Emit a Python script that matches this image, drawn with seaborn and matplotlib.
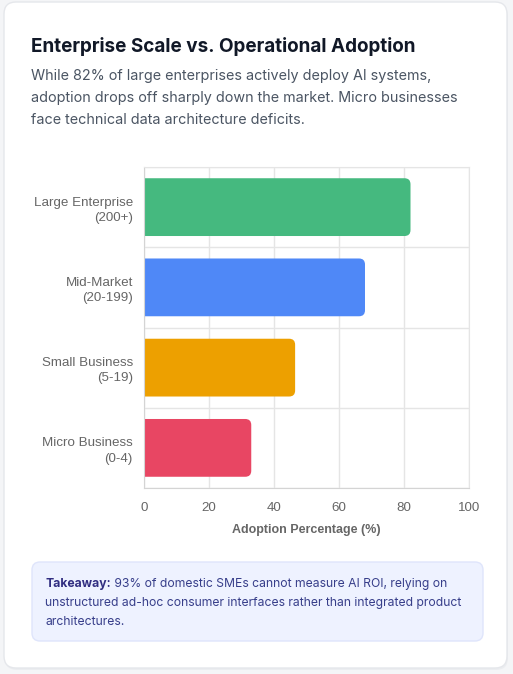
import seaborn as sns
import matplotlib.pyplot as plt
import pandas as pd
from matplotlib.patches import FancyBboxPatch

# --- data ---
segments = ['Large Enterprise\n(200+)', 'Mid-Market\n(20-199)',
            'Small Business\n(5-19)', 'Micro Business\n(0-4)']
adoption = [82, 68, 46.5, 33]
bar_colors = ['#45b97f', '#4f88f7', '#eda000', '#e84663']
x_ticks = [0, 20, 40, 60, 80, 100]

title = 'Enterprise Scale vs. Operational Adoption'
subtitle_lines = ['While 82% of large enterprises actively deploy AI systems,',
                  'adoption drops off sharply down the market. Micro businesses',
                  'face technical data architecture deficits.']
takeaway_head = 'Takeaway:'
takeaway_lines = [' 93% of domestic SMEs cannot measure AI ROI, relying on',
                  'unstructured ad-hoc consumer interfaces rather than integrated product',
                  'architectures.']

df = pd.DataFrame({'Segment': segments, 'Adoption': adoption})

sns.set_style('white')
plt.rcParams['font.family'] = ['Liberation Sans', 'DejaVu Sans']
ui_font = ['Inter', 'DejaVu Sans']

W, H = 513, 674
fig = plt.figure(figsize=(W / 100, H / 100), dpi=100)
fig.patch.set_facecolor('#f4f5f7')

# card background (pixel coords via a full-figure axes)
bg = fig.add_axes([0, 0, 1, 1])
bg.set_xlim(0, W)
bg.set_ylim(H, 0)
bg.axis('off')
bg.add_patch(FancyBboxPatch((5, 4), 503, 666, boxstyle='round,pad=0,rounding_size=12',
                            fc='#e6e8ec', ec='none', alpha=0.6))
bg.add_patch(FancyBboxPatch((4, 2), 503, 666, boxstyle='round,pad=0,rounding_size=12',
                            fc='white', ec='#e5e7eb', lw=1))
bg.add_patch(FancyBboxPatch((32, 562), 451, 79, boxstyle='round,pad=0,rounding_size=8',
                            fc='#eef2ff', ec='#dfe5fb', lw=1))

bg.text(31, 46, title, fontsize=13.6, fontweight='bold', color='#111827',
        family=ui_font, va='center')
for i, line in enumerate(subtitle_lines):
    bg.text(31, 76 + 22 * i, line, fontsize=10.35, color='#4b5563', family=ui_font,
            va='center')

t = bg.text(45, 584, takeaway_head, fontsize=8.75, fontweight='bold', color='#312e81',
            family=ui_font, va='center')
bg.annotate(takeaway_lines[0], xycoords=t, xy=(1, 0.5), va='center',
            fontsize=8.75, color='#373e8a', family=ui_font)
for i, line in enumerate(takeaway_lines[1:]):
    bg.text(45, 603 + 19 * i, line, fontsize=8.75, color='#373e8a', family=ui_font,
            va='center')

# --- chart ---
left, right, top, bottom = 144, 469, 167, 488
ax = fig.add_axes([left / W, 1 - bottom / H, (right - left) / W, (bottom - top) / H])
sns.barplot(data=df, y='Segment', x='Adoption', hue='Segment', palette=bar_colors,
            legend=False, width=0.72, saturation=1, ax=ax, orient='h')

# rounded bar ends: start the rounded box left of zero, axes clip hides the left corners
xr = 100 / (right - left)          # data units per px in x
yr = 4 / (bottom - top)            # data units per px in y
for p in list(ax.patches):
    x0, y0 = p.get_x(), p.get_y()
    w, h = p.get_width(), p.get_height()
    c = p.get_facecolor()
    p.remove()
    ax.add_patch(FancyBboxPatch((x0 - 12 * xr, y0), w + 12 * xr, h,
                                boxstyle=f'round,pad=0,rounding_size={6 * xr}',
                                mutation_aspect=yr / xr, fc=c, ec='none', zorder=2))

ax.set_xlim(0, 100)
ax.set_ylim(3.5, -0.5)
ax.set_xticks(x_ticks)
ax.set_yticks([-0.5, 0.5, 1.5, 2.5, 3.5], minor=False)
ax.set_yticklabels([])
ax.set_yticks(range(4), minor=True)
ax.set_yticklabels(segments, minor=True)
ax.tick_params(axis='y', which='major', length=9, color='#e5e5e5', width=1)
ax.tick_params(axis='y', which='minor', length=0, pad=8, labelsize=9.6, labelcolor='#666666')
ax.tick_params(axis='x', length=8, color='#e5e5e5', width=1, pad=2, labelsize=9.6,
               labelcolor='#666666')
for lbl in ax.get_yticklabels(minor=True):
    lbl.set_ha('right')
    lbl.set_multialignment('right')
    lbl.set_linespacing(1.35)
ax.grid(True, axis='x', color='#e5e5e5', lw=1, zorder=0)
ax.grid(True, axis='y', which='major', color='#e5e5e5', lw=1, zorder=0)
ax.set_axisbelow(True)
for s in ['top', 'right']:
    ax.spines[s].set_color('#e5e5e5')
ax.spines['left'].set_color('#d4d4d4')
ax.spines['bottom'].set_color('#d4d4d4')
ax.set_ylabel('')
ax.set_xlabel('Adoption Percentage (%)', fontsize=9, color='#666666', fontweight='bold',
              labelpad=7)

plt.savefig('out.png', dpi=100)
